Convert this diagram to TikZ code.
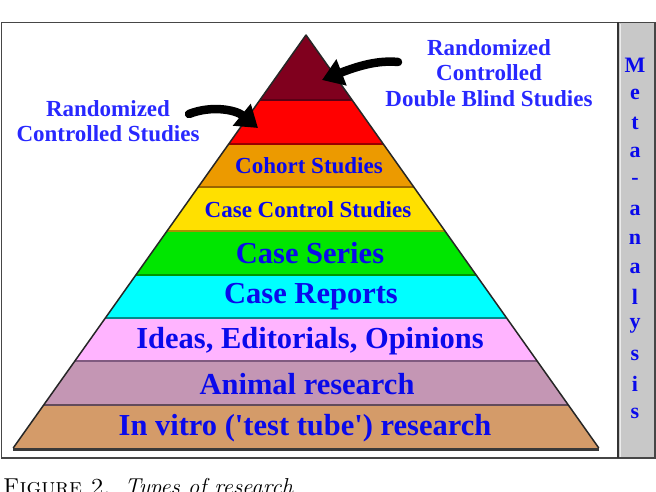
\documentclass[tikz,border=0pt]{standalone}
\usepackage{fontspec}
\newfontfamily\pyrfont{Liberation Serif}
\usetikzlibrary{arrows.meta}
\definecolor{cMaroon}{RGB}{128,0,30}
\definecolor{cRed}{RGB}{255,0,0}
\definecolor{cOrange}{RGB}{236,154,0}
\definecolor{cYellow}{RGB}{255,224,0}
\definecolor{cGreen}{RGB}{0,230,0}
\definecolor{cCyan}{RGB}{0,255,255}
\definecolor{cPink}{RGB}{255,180,255}
\definecolor{cMauve}{RGB}{196,150,180}
\definecolor{cTan}{RGB}{212,155,105}
\definecolor{cText}{RGB}{10,10,235}
\definecolor{cLabel}{RGB}{40,40,255}
\definecolor{cCol}{RGB}{200,200,200}
\begin{document}
\begin{tikzpicture}[x=1pt,y=-1pt,
  bigtext/.style={font=\pyrfont\bfseries\fontsize{30.5}{32}\selectfont, text=cText, inner sep=0pt},
  smalltext/.style={font=\pyrfont\bfseries\fontsize{23}{25}\selectfont, text=cText, inner sep=0pt},
  sidelabel/.style={font=\pyrfont\bfseries\fontsize{23}{25.5}\selectfont, text=cLabel, align=center, inner sep=0pt},
  metaletter/.style={font=\pyrfont\bfseries\fontsize{22}{24}\selectfont, text=cText, inner sep=0pt},
  sep/.style={line width=2pt},
  bigarrow/.style={line width=8.5pt, line cap=round, -{Triangle[width=27pt,length=21pt]}, black}
]
\useasboundingbox (0,0) rectangle (656,492);
% frame
\fill[white] (1.5,22.5) rectangle (655,458);
\fill[cCol] (618,23) rectangle (655,458);
\draw[gray!55!black, line width=1.5pt] (1.5,22.5) rectangle (655,458);
\draw[gray!40!black, line width=1.5pt] (618,22.5) -- (618,458);
\draw[gray!15, line width=1pt] (620.5,24) -- (620.5,457);
% layers
\fill[cMaroon] (306,35) -- (352.1,100) -- (259.9,100) -- cycle;
\fill[cRed] (259.9,100) -- (352.1,100) -- (383.3,144) -- (228.7,144) -- cycle;
\fill[cOrange] (228.7,144) -- (383.3,144) -- (413.8,187) -- (198.2,187) -- cycle;
\fill[cYellow] (198.2,187) -- (413.8,187) -- (445.0,231) -- (167.0,231) -- cycle;
\fill[cGreen] (167.0,231) -- (445.0,231) -- (476.2,275) -- (135.8,275) -- cycle;
\fill[cCyan] (135.8,275) -- (476.2,275) -- (506.6,318) -- (105.4,318) -- cycle;
\fill[cPink] (105.4,318) -- (506.6,318) -- (537.1,361) -- (74.9,361) -- cycle;
\fill[cMauve] (74.9,361) -- (537.1,361) -- (568.3,405) -- (43.7,405) -- cycle;
\fill[cTan] (43.7,405) -- (568.3,405) -- (598.8,448) -- (13.2,448) -- cycle;
% separators
\draw[sep, cMaroon!70!black] (259.9,100) -- (352.1,100);
\draw[sep, cRed!60!black] (228.7,144) -- (383.3,144);
\draw[sep, cOrange!65!black] (198.2,187) -- (413.8,187);
\draw[sep, cYellow!65!black] (167.0,231) -- (445.0,231);
\draw[sep, cGreen!65!black] (135.8,275) -- (476.2,275);
\draw[sep, cCyan!55!black] (105.4,318) -- (506.6,318);
\draw[sep, cPink!50!black] (74.9,361) -- (537.1,361);
\draw[sep, cMauve!50!black] (43.7,405) -- (568.3,405);
\draw[line width=3pt, gray!45!black] (13.2,449) -- (598.8,449);
% outline
\draw[line width=1.5pt, black!85, line join=round] (13.2,448) -- (306,35) -- (598.8,448);
% layer texts
\node[smalltext] (cohort) at (309,166) {Cohort Studies};
\node[smalltext] (casecontrol) at (308,210) {Case Control Studies};
\node[bigtext] (series) at (310,253) {Case Series};
\node[bigtext] (reports) at (311,297) {Case Reports};
\node[bigtext] (ideas) at (310,341) {Ideas, Editorials, Opinions};
\node[bigtext] (animal) at (307,384) {Animal research};
\node[bigtext] (invitro) at (305,428) {In vitro ('test tube') research};
% side labels
\node[sidelabel] (rcs) at (108,121) {Randomized\\Controlled Studies};
\node[sidelabel] (rcdb) at (489,73) {Randomized\\Controlled\\Double Blind Studies};
% arrows
\coordinate (raTail) at (398,62);
\coordinate (raTip) at (322,80);
\coordinate (laTail) at (189,114);
\coordinate (laTip) at (258,128);
\draw[bigarrow] (raTail) .. controls (378,60) and (358,66) .. (raTip);
\draw[bigarrow] (laTail) .. controls (212,105) and (236,110) .. (laTip);
% meta-analysis column
\foreach \ch [count=\i from 0] in {M,e,t,a,-,a,n,a,l,y,s,i,s} {
  \node[metaletter] (meta\i) at (635,65+29*\i) {\ch};
}
% caption
\node[anchor=base west, inner sep=0pt, font=\fontsize{23}{25}\selectfont] (caption) at (3,494) {\textsc{Figure 2.}\hspace{0.6em}\textit{Types of research}};
\end{tikzpicture}
\end{document}
